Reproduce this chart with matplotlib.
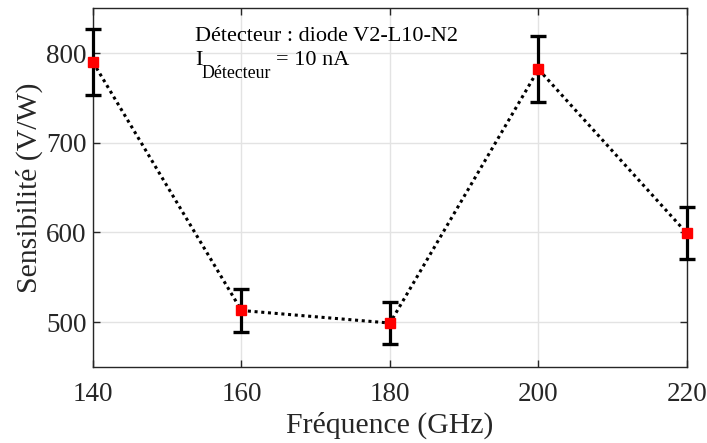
"""Sensibilité d'un détecteur en fonction de la fréquence."""

import matplotlib

matplotlib.use("Agg")
import matplotlib.pyplot as plt

freq_ghz = [140, 160, 180, 200, 220]
sensibilite = [790, 513, 499, 782, 599]
erreur = [37, 24, 23, 37, 29]
x_ticks = [140, 160, 180, 200, 220]
y_ticks = [500, 600, 700, 800]

plt.rcParams["font.family"] = ["Liberation Serif", "DejaVu Serif"]

fig = plt.figure(figsize=(7.07, 4.43), dpi=100)
ax = fig.add_axes([0.1315, 0.1716, 0.8402, 0.8096])

eb = ax.errorbar(freq_ghz, sensibilite, yerr=erreur, fmt="none", ecolor="black",
                 elinewidth=2.3, capsize=5.6, capthick=2.4, zorder=3)
for art in list(eb.lines[1]) + list(eb.lines[2]):
    art.set_clip_on(False)
ax.plot(freq_ghz, sensibilite, color="black", linestyle=(0, (1, 1.2)),
        linewidth=2.2, zorder=4)
ax.plot(freq_ghz, sensibilite, linestyle="none", marker="s", markersize=7,
        markerfacecolor="red", markeredgecolor="red", zorder=5, clip_on=False)

ax.set_xlim(140, 220)
ax.set_ylim(450, 850)
ax.set_xticks(x_ticks)
ax.set_yticks(y_ticks)
ax.grid(True, color="#e3e3e3", linewidth=1)
ax.set_axisbelow(True)
ax.tick_params(direction="in", top=True, right=True, length=5, width=1,
               labelsize=19.5, colors="#262626")
ax.tick_params(axis="x", pad=11)
ax.tick_params(axis="y", pad=4.5)
for s in ax.spines.values():
    s.set_color("#262626")
    s.set_linewidth(1)

ax.set_xlabel("Fréquence (GHz)", fontsize=21.4, color="#262626", labelpad=3)
ax.set_ylabel("Sensibilité (V/W)", fontsize=21.4, color="#262626", labelpad=2.5)

# annotation (MATLAB-style subscript: large and well below the baseline)
ax.text(0.1717, 0.909, "Détecteur : diode V2-L10-N2", transform=ax.transAxes,
        fontsize=16, color="black", va="baseline")
ax.text(0.1717, 0.842, "I", transform=ax.transAxes,
        fontsize=16, color="black", va="baseline")
ax.text(0.1835, 0.806, "Détecteur", transform=ax.transAxes,
        fontsize=12.8, color="black", va="baseline")
ax.text(0.308, 0.842, "= 10 nA", transform=ax.transAxes,
        fontsize=16, color="black", va="baseline")

fig.savefig("out.png", dpi=100)
